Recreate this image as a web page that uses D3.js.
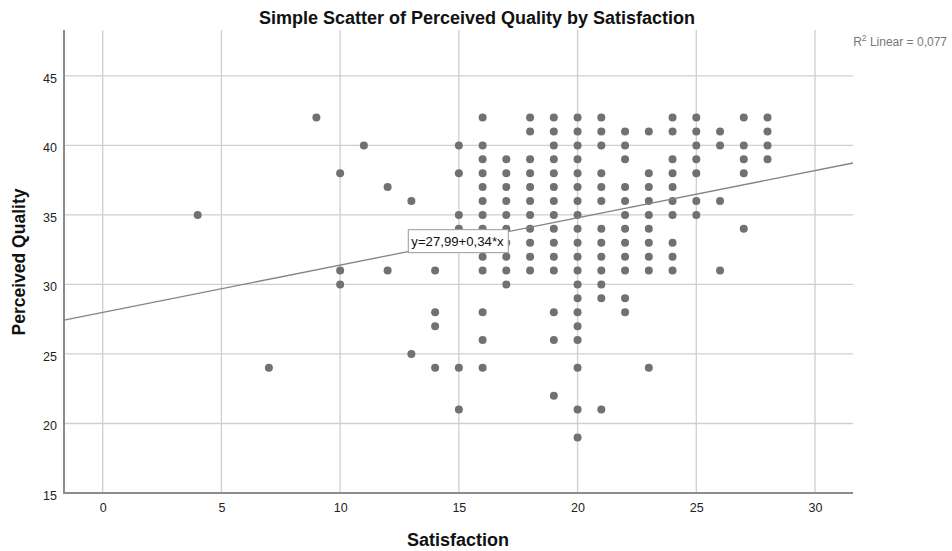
<!DOCTYPE html>
<html>
<head>
<meta charset="utf-8">
<script src="https://cdn.jsdelivr.net/npm/d3@7"></script>
<style>
  body { margin: 0; background: #fff; }
  text { font-family: "Liberation Sans", Arial, sans-serif; }
</style>
</head>
<body>
<div id="container"></div>
<script>
// data: one satisfaction value per column, list of perceived quality values per column
let satisfaction = [4, 7, 9, 10, 11, 12, 13, 14, 15, 16, 17, 18, 19, 20, 21, 22, 23, 24, 25, 26, 27, 28];
let quality = [
    [35],
    [24],
    [42],
    [38, 31, 30],
    [40],
    [37, 31],
    [36, 25],
    [31, 28, 27, 24],
    [40, 38, 35, 34, 24, 21],
    [42, 40, 39, 38, 37, 36, 35, 34, 32, 31, 28, 26, 24],
    [39, 38, 37, 36, 35, 34, 33, 32, 31, 30],
    [42, 41, 39, 38, 37, 36, 35, 34, 33, 32, 31],
    [42, 41, 40, 39, 38, 37, 36, 35, 34, 33, 32, 31, 28, 26, 22],
    [42, 41, 40, 39, 38, 37, 36, 35, 34, 33, 32, 31, 30, 29, 28, 27, 26, 24, 21, 19],
    [42, 41, 40, 38, 37, 36, 34, 33, 32, 31, 30, 29, 21],
    [41, 40, 39, 37, 36, 35, 34, 33, 32, 31, 29, 28],
    [41, 38, 37, 36, 35, 34, 33, 32, 31, 24],
    [42, 41, 39, 38, 37, 36, 35, 33, 32, 31],
    [42, 41, 40, 39, 38, 36, 35],
    [41, 40, 36, 31],
    [42, 40, 39, 38, 34],
    [42, 41, 40, 39]
];
let xTicks = [0, 5, 10, 15, 20, 25, 30];
let yTicks = [15, 20, 25, 30, 35, 40, 45];
let intercept = 27.99;
let slope = 0.34;
let rSquared = "0,077";

let points = [];
satisfaction.forEach(function (s, i) {
    quality[i].forEach(function (q) { points.push([s, q]); });
});

//画布
let width = 952, height = 551;
let svg = d3.select("#container")
    .append("svg")
    .attr("width", width)
    .attr("height", height);

let plotLeft = 64, plotRight = 853, plotTop = 30, plotBottom = 493;

//比例尺
let xScale = d3.scaleLinear().domain([-1.63, 31.6]).range([plotLeft, plotRight]);
let yScale = d3.scaleLinear().domain([15, 48.3]).range([plotBottom, plotTop]);

//网格
svg.append("g").selectAll("line")
    .data(xTicks)
    .enter().append("line")
    .attr("x1", d => xScale(d)).attr("x2", d => xScale(d))
    .attr("y1", plotTop).attr("y2", plotBottom)
    .attr("stroke", "#cfcfcf").attr("stroke-width", 1.3);

svg.append("g").selectAll("line")
    .data(yTicks.slice(1))
    .enter().append("line")
    .attr("x1", plotLeft).attr("x2", plotRight)
    .attr("y1", d => yScale(d)).attr("y2", d => yScale(d))
    .attr("stroke", "#cfcfcf").attr("stroke-width", 1.3);

//坐标轴
let xAxis = d3.axisBottom(xScale).tickValues(xTicks).tickSize(0).tickPadding(10);
let yAxis = d3.axisLeft(yScale).tickValues(yTicks).tickSize(0).tickPadding(7);

let xg = svg.append("g")
    .attr("transform", "translate(0," + plotBottom + ")")
    .call(xAxis);
let yg = svg.append("g")
    .attr("transform", "translate(" + plotLeft + ",0)")
    .call(yAxis);

[xg, yg].forEach(function (g) {
    g.select(".domain").remove();
    g.selectAll("text")
        .style("font-family", "'Liberation Sans', Arial, sans-serif")
        .style("font-size", "12.5px")
        .attr("fill", "#222");
});
yg.selectAll("text").attr("dy", "0.5em");

svg.append("line")
    .attr("x1", plotLeft).attr("x2", plotLeft)
    .attr("y1", plotTop).attr("y2", plotBottom + 1)
    .attr("stroke", "#8c8c8c").attr("stroke-width", 2);
svg.append("line")
    .attr("x1", plotLeft).attr("x2", plotRight)
    .attr("y1", plotBottom).attr("y2", plotBottom)
    .attr("stroke", "#8c8c8c").attr("stroke-width", 2);

//点
svg.append("g").selectAll("circle")
    .data(points)
    .enter()
    .append("circle")
    .attr("cx", d => xScale(d[0]))
    .attr("cy", d => yScale(d[1]))
    .attr("r", 4)
    .attr("fill", "#717171");

//回归线
let x0 = xScale.domain()[0], x1 = xScale.domain()[1];
svg.append("line")
    .attr("x1", xScale(x0)).attr("y1", yScale(intercept + slope * x0))
    .attr("x2", xScale(x1)).attr("y2", yScale(intercept + slope * x1))
    .attr("stroke", "#848484").attr("stroke-width", 1.3);

//公式标签
let lg = svg.append("g")
    .attr("transform", "translate(" + xScale(12.87) + "," + yScale(33.94) + ")");
lg.append("rect")
    .attr("width", 100).attr("height", 23)
    .attr("fill", "#fff").attr("stroke", "#9a9a9a").attr("stroke-width", 1);
lg.append("text")
    .attr("x", 3).attr("y", 16)
    .style("font-size", "13.2px")
    .attr("fill", "#111")
    .text("y=" + String(intercept).replace(".", ",") + "+" + String(slope).replace(".", ",") + "*x");

//标题
svg.append("text")
    .attr("x", 477).attr("y", 24)
    .attr("text-anchor", "middle")
    .style("font-size", "18px").style("font-weight", "bold")
    .attr("fill", "#111")
    .text("Simple Scatter of Perceived Quality by Satisfaction");

svg.append("text")
    .attr("x", 458).attr("y", 546)
    .attr("text-anchor", "middle")
    .style("font-size", "18px").style("font-weight", "bold")
    .attr("fill", "#111")
    .text("Satisfaction");

svg.append("text")
    .attr("transform", "translate(25,262) rotate(-90)")
    .attr("text-anchor", "middle")
    .style("font-size", "17.5px").style("font-weight", "bold")
    .attr("fill", "#111")
    .text("Perceived Quality");

let r2 = svg.append("text")
    .attr("x", 947).attr("y", 46)
    .attr("text-anchor", "end")
    .style("font-size", "12px")
    .attr("fill", "#777");
r2.append("tspan").text("R");
r2.append("tspan").attr("dy", -5).style("font-size", "8.5px").text("2");
r2.append("tspan").attr("dy", 5).text(" Linear = " + rSquared);
</script>
</body>
</html>
